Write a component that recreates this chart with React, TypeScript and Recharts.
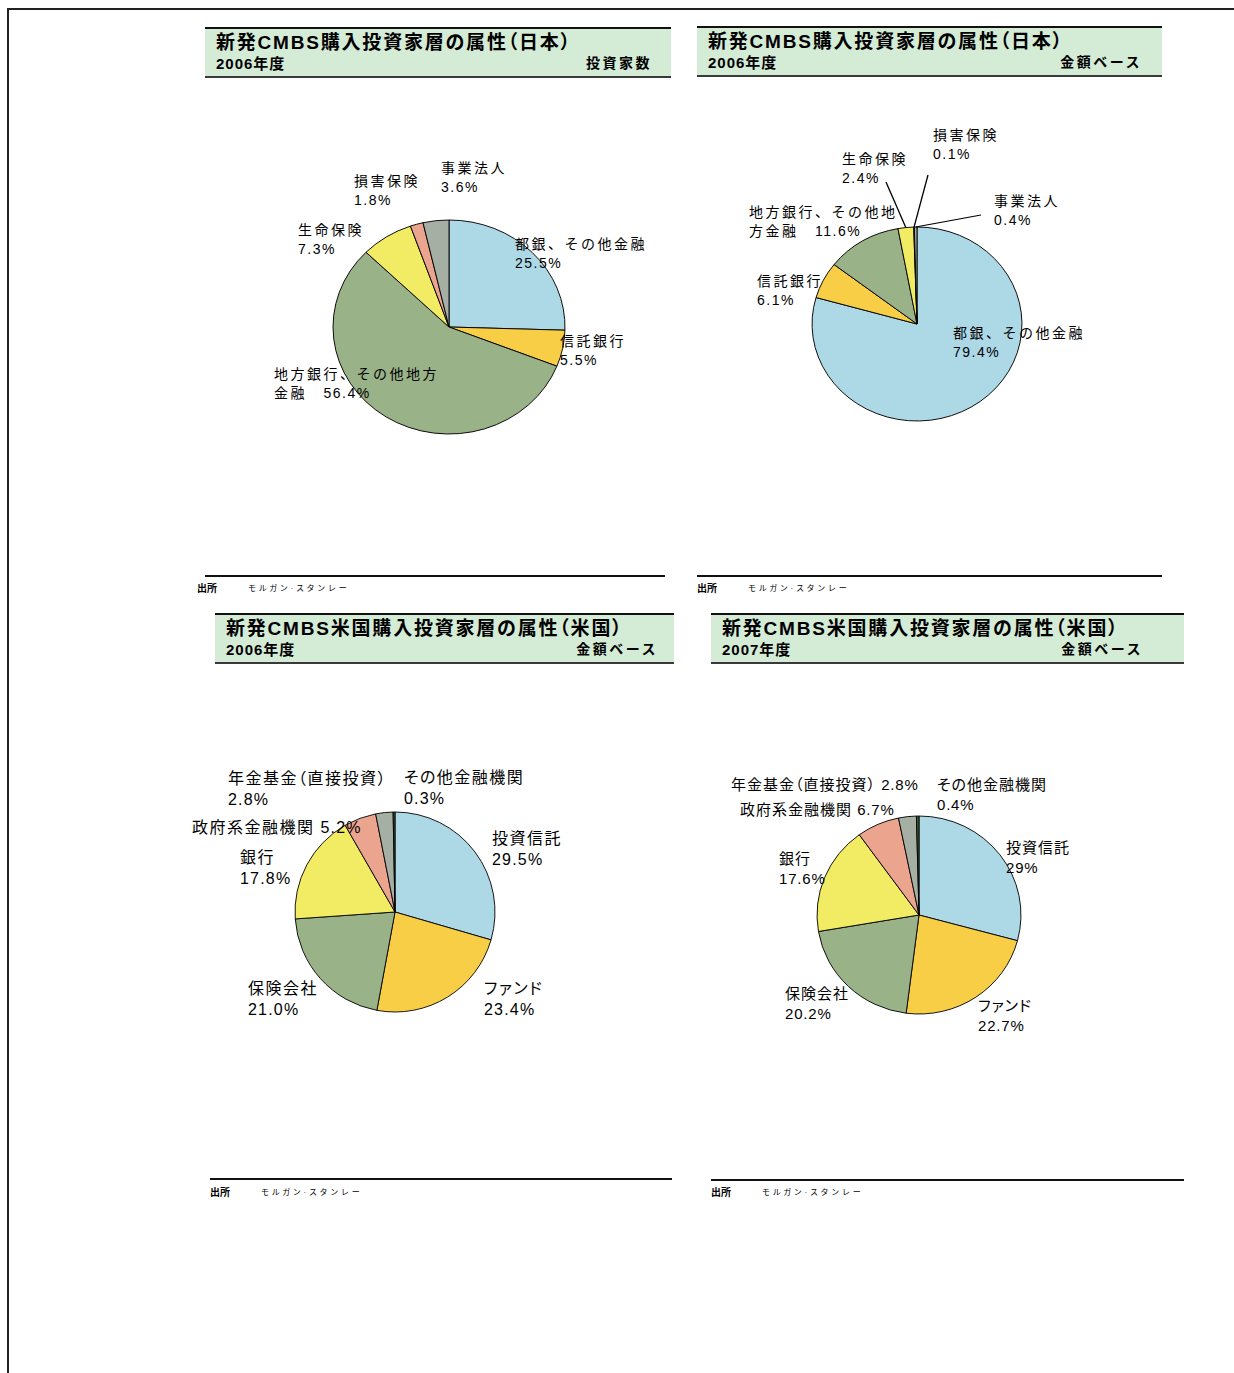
import React from "react";
import { PieChart, Pie, Cell } from "recharts";

// --- data ---
const jpCategories = ["都銀、その他金融", "信託銀行", "地方銀行、その他地方金融", "生命保険", "損害保険", "事業法人"];
const jpCountShare = [25.5, 5.5, 56.4, 7.3, 1.8, 3.6];
const jpAmountShare = [79.4, 6.1, 11.6, 2.4, 0.1, 0.4];

const usCategories = ["投資信託", "ファンド", "保険会社", "銀行", "政府系金融機関", "年金基金（直接投資）", "その他金融機関"];
const us2006Share = [29.5, 23.4, 21.0, 17.8, 5.2, 2.8, 0.3];
const us2007Share = [29, 22.7, 20.2, 17.6, 6.7, 2.8, 0.4];

const jpColors = ["#ADD8E6", "#F8CE47", "#99B287", "#F2EC64", "#EBA48E", "#A6AFA3"];
const usColors = ["#ADD8E6", "#F8CE47", "#99B287", "#F2EC64", "#EBA48E", "#A6AFA3", "#3E5B30"];

const FONT = '"Liberation Sans", Arial, "Noto Sans CJK JP", sans-serif';
const HEADER_GREEN = "#D4EBD6";
const BOX = 300;

type Spot = { x: number; y: number; wrap?: number; inline?: boolean; leader?: [number, number] };

type PanelCfg = {
  title: string;
  year: string;
  basis: string;
  head: { left: number; top: number; width: number; basisRight: number };
  foot: { lineLeft: number; lineTop: number; lineWidth: number; textLeft: number; textY: number };
  pie: { cx: number; cy: number; r: number; sx: number };
  names: string[];
  values: number[];
  colors: string[];
  fmt: (v: number) => string;
  text: { size: number; spacing: number; numSpacing: number; lh: number; palt: boolean };
  spots: Spot[];
};

const fixed1 = (v: number) => `${v.toFixed(1)}%`;
const plain = (v: number) => `${v}%`;

const panels: PanelCfg[] = [
  {
    title: "新発CMBS購入投資家層の属性（日本）",
    year: "2006年度",
    basis: "投資家数",
    head: { left: 205, top: 27, width: 466, basisRight: 19 },
    foot: { lineLeft: 205, lineTop: 575, lineWidth: 460, textLeft: 197, textY: 589 },
    pie: { cx: 449, cy: 327, r: 107, sx: 1.084 },
    names: jpCategories,
    values: jpCountShare,
    colors: jpColors,
    fmt: fixed1,
    text: { size: 14, spacing: 2.5, numSpacing: 1.5, lh: 19, palt: false },
    spots: [
      { x: 515, y: 244 },
      { x: 560, y: 341 },
      { x: 274, y: 374, wrap: 10 },
      { x: 298, y: 230 },
      { x: 354, y: 181 },
      { x: 441, y: 168 },
    ],
  },
  {
    title: "新発CMBS購入投資家層の属性（日本）",
    year: "2006年度",
    basis: "金額ベース",
    head: { left: 697, top: 26, width: 465, basisRight: 20 },
    foot: { lineLeft: 697, lineTop: 575, lineWidth: 465, textLeft: 697, textY: 589 },
    pie: { cx: 917, cy: 324, r: 97, sx: 1.082 },
    names: jpCategories,
    values: jpAmountShare,
    colors: jpColors,
    fmt: fixed1,
    text: { size: 14, spacing: 2.5, numSpacing: 1.5, lh: 19, palt: false },
    spots: [
      { x: 953, y: 333 },
      { x: 757, y: 281 },
      { x: 749, y: 212, wrap: 9 },
      { x: 842, y: 159, leader: [886, 182] },
      { x: 933, y: 135, leader: [928, 175] },
      { x: 994, y: 201, leader: [981, 215] },
    ],
  },
  {
    title: "新発CMBS米国購入投資家層の属性（米国）",
    year: "2006年度",
    basis: "金額ベース",
    head: { left: 215, top: 613, width: 459, basisRight: 16 },
    foot: { lineLeft: 210, lineTop: 1178, lineWidth: 462, textLeft: 210, textY: 1193 },
    pie: { cx: 395, cy: 912, r: 100, sx: 1 },
    names: usCategories,
    values: us2006Share,
    colors: usColors,
    fmt: fixed1,
    text: { size: 16, spacing: 1.5, numSpacing: 1.2, lh: 21, palt: true },
    spots: [
      { x: 492, y: 838 },
      { x: 484, y: 988 },
      { x: 248, y: 988 },
      { x: 240, y: 857 },
      { x: 192, y: 827, inline: true },
      { x: 228, y: 778 },
      { x: 404, y: 777 },
    ],
  },
  {
    title: "新発CMBS米国購入投資家層の属性（米国）",
    year: "2007年度",
    basis: "金額ベース",
    head: { left: 711, top: 613, width: 473, basisRight: 41 },
    foot: { lineLeft: 711, lineTop: 1179, lineWidth: 473, textLeft: 711, textY: 1193 },
    pie: { cx: 919, cy: 915, r: 99, sx: 1.03 },
    names: usCategories,
    values: us2007Share,
    colors: usColors,
    fmt: plain,
    text: { size: 15, spacing: 1, numSpacing: 0.8, lh: 19.5, palt: true },
    spots: [
      { x: 1006, y: 848 },
      { x: 978, y: 1006 },
      { x: 785, y: 994 },
      { x: 779, y: 859 },
      { x: 740, y: 810, inline: true },
      { x: 731, y: 785, inline: true },
      { x: 937, y: 785 },
    ],
  },
];

const RAD = Math.PI / 180;

function Header({ p }: { p: PanelCfg }) {
  return (
    <div
      style={{
        position: "absolute",
        left: p.head.left,
        top: p.head.top,
        width: p.head.width,
        height: 51,
        boxSizing: "border-box",
        background: HEADER_GREEN,
        borderTop: "2px solid #111",
        borderBottom: "2px solid #3a3a3a",
        fontFamily: FONT,
        fontWeight: 700,
        color: "#000",
      }}
    >
      <div
        style={{
          position: "absolute",
          left: 11,
          top: 2,
          fontSize: 19,
          lineHeight: "24px",
          letterSpacing: 1.8,
          fontFeatureSettings: '"palt"',
          whiteSpace: "pre",
        }}
      >
        {p.title}
      </div>
      <div style={{ position: "absolute", left: 11, top: 26, fontSize: 15, lineHeight: "17px", letterSpacing: 1, whiteSpace: "pre" }}>
        {p.year}
      </div>
      <div
        style={{
          position: "absolute",
          right: p.head.basisRight,
          top: 26,
          fontSize: 14,
          lineHeight: "17px",
          letterSpacing: 2.5,
          whiteSpace: "pre",
        }}
      >
        {p.basis}
      </div>
    </div>
  );
}

function Footer({ p }: { p: PanelCfg }) {
  const f = p.foot;
  return (
    <>
      <div style={{ position: "absolute", left: f.lineLeft, top: f.lineTop, width: f.lineWidth, height: 2, background: "#111" }} />
      <div
        style={{ position: "absolute", left: f.textLeft, top: f.textY - 6, fontFamily: FONT, fontSize: 10, lineHeight: "12px", fontWeight: 700 }}
      >
        出所
      </div>
      <div
        style={{ position: "absolute", left: f.textLeft + 51, top: f.textY - 6, fontFamily: FONT, fontSize: 8, lineHeight: "12px", letterSpacing: 2.7 }}
      >
        モルガン·スタンレー
      </div>
    </>
  );
}

function PiePanel({ p }: { p: PanelCfg }) {
  const data = p.names.map((name, i) => ({ name, value: p.values[i] }));
  const { cx, cy, r, sx } = p.pie;
  const half = BOX / 2;

  const renderLeader = (props: any) => {
    const spot = p.spots[props.index];
    if (!spot || !spot.leader) return <g />;
    const a = -props.midAngle * RAD;
    const x1 = props.cx + props.outerRadius * Math.cos(a);
    const y1 = props.cy + props.outerRadius * Math.sin(a);
    const x2 = half + (spot.leader[0] - cx) / sx;
    const y2 = half + (spot.leader[1] - cy);
    return <line x1={x1} y1={y1} x2={x2} y2={y2} stroke="#000" strokeWidth={1.2} />;
  };

  const num = (s: string) => <span style={{ letterSpacing: p.text.numSpacing }}>{s}</span>;

  return (
    <>
      <Header p={p} />
      <div
        style={{
          position: "absolute",
          left: cx - half,
          top: cy - half,
          width: BOX,
          height: BOX,
          transform: `scaleX(${sx})`,
          transformOrigin: `${half}px ${half}px`,
        }}
      >
        <PieChart width={BOX} height={BOX} margin={{ top: 0, right: 0, bottom: 0, left: 0 }}>
          <Pie
            data={data}
            dataKey="value"
            nameKey="name"
            cx={half}
            cy={half}
            outerRadius={r}
            startAngle={90}
            endAngle={-270}
            stroke="#000"
            strokeWidth={0.9}
            label={renderLeader}
            labelLine={false}
            isAnimationActive={false}
          >
            {data.map((d, i) => (
              <Cell key={d.name} fill={p.colors[i]} />
            ))}
          </Pie>
        </PieChart>
      </div>
      {p.spots.map((s, i) => {
        const name = p.names[i];
        const val = p.fmt(p.values[i]);
        let lines: React.ReactNode[];
        if (s.inline) lines = [<>{name} {num(val)}</>];
        else if (s.wrap) lines = [name.slice(0, s.wrap), <>{name.slice(s.wrap)}　{num(val)}</>];
        else lines = [name, num(val)];
        return (
          <div
            key={name}
            style={{
              position: "absolute",
              left: s.x,
              top: s.y - p.text.lh / 2,
              fontFamily: FONT,
              fontSize: p.text.size,
              lineHeight: `${p.text.lh}px`,
              letterSpacing: p.text.spacing,
              fontFeatureSettings: p.text.palt ? '"palt"' : "normal",
              whiteSpace: "pre",
              color: "#000",
            }}
          >
            {lines.map((l, k) => (
              <div key={k}>{l}</div>
            ))}
          </div>
        );
      })}
      <Footer p={p} />
    </>
  );
}

export default function App() {
  return (
    <div style={{ position: "absolute", left: 0, top: 0, width: 1234, height: 1373, overflow: "hidden", background: "#fff" }}>
      <div
        style={{
          position: "absolute",
          left: 7,
          top: 8,
          width: 1300,
          height: 1400,
          borderTop: "2px solid #222",
          borderLeft: "2px solid #222",
        }}
      />
      {panels.map((p, i) => (
        <PiePanel key={i} p={p} />
      ))}
    </div>
  );
}
